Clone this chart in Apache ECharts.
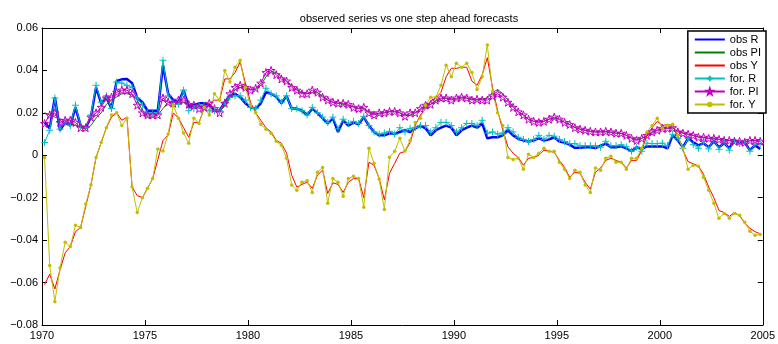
<!DOCTYPE html>
<html><head><meta charset="utf-8">
<script src="https://cdn.jsdelivr.net/npm/echarts@6/dist/echarts.min.js"></script>
<style>html,body{margin:0;padding:0;background:#fff}#c{width:778px;height:344px}</style>
</head><body><div id="c"></div>
<script>
const chartTitle = 'observed series vs one step ahead forecasts';
const seriesNames = ['obs R', 'obs PI', 'obs Y', 'for. R', 'for. PI', 'for. Y'];
const xTickValues = [1970, 1975, 1980, 1985, 1990, 1995, 2000, 2005];
const yTickValues = [-0.08, -0.06, -0.04, -0.02, 0, 0.02, 0.04, 0.06];
const firstYear = 1970; // quarterly data 1970Q1 .. 2004Q4

const obsR = [
 0.0155,0.0127,0.0274,0.0118,0.0155,0.014,0.0226,0.014,0.013,0.018,
 0.032,0.0245,0.0274,0.022,0.035,0.0358,0.036,0.034,0.027,0.025,
 0.021,0.021,0.021,0.0425,0.029,0.026,0.025,0.0307,0.0226,0.0236,
 0.0245,0.0245,0.0236,0.021,0.021,0.025,0.028,0.029,0.0274,0.0245,
 0.0226,0.022,0.0245,0.0297,0.029,0.0276,0.0245,0.028,0.022,0.022,
 0.021,0.019,0.022,0.020,0.0175,0.015,0.0175,0.011,0.0165,0.014,
 0.0155,0.0146,0.018,0.014,0.011,0.0094,0.0094,0.0104,0.010,0.011,
 0.0118,0.011,0.0127,0.014,0.0127,0.0094,0.0118,0.013,0.014,0.013,
 0.0094,0.0118,0.013,0.014,0.013,0.015,0.008,0.0085,0.0085,0.0094,
 0.0118,0.0094,0.0078,0.007,0.0065,0.007,0.008,0.007,0.0075,0.0085,
 0.0065,0.006,0.005,0.0035,0.0036,0.0038,0.0038,0.0034,0.0045,0.0055,
 0.0038,0.0038,0.0042,0.0033,0.0019,0.0038,0.003,0.0042,0.0042,0.0042,
 0.0042,0.0033,0.0094,0.007,0.0038,0.008,0.0061,0.0047,0.0057,0.0038,
 0.0066,0.0038,0.0057,0.0033,0.007,0.0061,0.0061,0.0024,0.0047,0.003
];
const obsPI = [
 0.020,0.019,0.018,0.017,0.0165,0.015,0.014,0.013,0.0125,0.014,
 0.0175,0.020,0.024,0.026,0.0275,0.029,0.029,0.0285,0.026,0.021,
 0.018,0.018,0.019,0.022,0.025,0.025,0.0255,0.025,0.024,0.0235,
 0.023,0.023,0.0235,0.022,0.021,0.023,0.027,0.031,0.032,0.032,
 0.031,0.031,0.033,0.037,0.0395,0.039,0.037,0.035,0.033,0.031,
 0.0295,0.029,0.0295,0.0295,0.028,0.026,0.025,0.0245,0.024,0.0235,
 0.023,0.022,0.022,0.0205,0.0195,0.0195,0.020,0.0205,0.0205,0.020,
 0.019,0.019,0.020,0.0215,0.023,0.024,0.0255,0.0265,0.027,0.0265,
 0.0265,0.027,0.027,0.0265,0.026,0.0265,0.027,0.0295,0.031,0.029,
 0.026,0.023,0.0205,0.019,0.017,0.016,0.0158,0.016,0.017,0.0175,
 0.017,0.0155,0.0145,0.0132,0.0123,0.0118,0.0113,0.011,0.011,0.011,
 0.0108,0.0104,0.0102,0.0094,0.0082,0.0075,0.008,0.0092,0.0105,0.0118,
 0.0125,0.0128,0.0128,0.0115,0.0105,0.0099,0.0093,0.0087,0.0084,0.008,
 0.0079,0.0075,0.0071,0.007,0.0067,0.0066,0.0063,0.0068,0.0068,0.0066
];
const obsY = [
 -0.061,-0.056,-0.063,-0.054,-0.046,-0.043,-0.036,-0.034,-0.024,-0.014,
 -0.001,0.006,0.013,0.018,0.020,0.0165,0.018,-0.015,-0.019,-0.020,
 -0.0155,-0.011,-0.002,0.007,0.0095,0.020,0.0175,0.013,0.0085,0.0155,
 0.0155,0.022,0.0245,0.026,0.026,0.036,0.036,0.039,0.044,0.034,
 0.025,0.020,0.0165,0.013,0.011,0.007,0.0057,0.001,-0.0094,-0.015,
 -0.0137,-0.0127,-0.0156,-0.0094,-0.007,-0.018,-0.013,-0.0137,-0.0175,-0.0127,
 -0.011,-0.011,-0.020,-0.0033,-0.0047,-0.011,-0.021,-0.0085,-0.0038,0.001,
 0.0018,0.006,0.014,0.019,0.022,0.0255,0.027,0.0297,0.037,0.041,
 0.041,0.0415,0.0415,0.035,0.033,0.038,0.046,0.032,0.021,0.012,
 0.004,0.001,-0.001,-0.0047,-0.0014,-0.001,0.0,0.0024,0.0019,0.0014,
 -0.0024,-0.0057,-0.0104,-0.008,-0.0085,-0.0127,-0.016,-0.008,-0.006,-0.0024,
 -0.0014,-0.0024,-0.0033,-0.006,-0.0024,-0.0024,0.0024,0.0094,0.013,0.016,
 0.014,0.0146,0.014,0.0094,0.0024,-0.003,-0.004,-0.005,-0.009,-0.015,
 -0.020,-0.026,-0.027,-0.0288,-0.027,-0.0285,-0.032,-0.0344,-0.036,-0.037
];
const forR = [
 0.006,0.0118,0.027,0.0123,0.0155,0.014,0.0236,0.014,0.013,0.019,
 0.033,0.025,0.028,0.022,0.0345,0.034,0.033,0.032,0.027,0.0236,
 0.020,0.020,0.020,0.0448,0.028,0.025,0.024,0.0307,0.021,0.022,
 0.0235,0.0235,0.021,0.021,0.021,0.025,0.0274,0.028,0.028,0.026,
 0.0226,0.022,0.026,0.0316,0.029,0.028,0.025,0.028,0.022,0.022,
 0.021,0.019,0.0226,0.020,0.018,0.0155,0.018,0.0125,0.017,0.015,
 0.016,0.015,0.0184,0.014,0.011,0.010,0.0105,0.0113,0.010,0.013,
 0.011,0.0127,0.013,0.014,0.014,0.011,0.013,0.0155,0.0155,0.014,
 0.011,0.013,0.015,0.015,0.014,0.0165,0.0104,0.011,0.010,0.0105,
 0.013,0.011,0.0085,0.0075,0.0065,0.0075,0.0094,0.0075,0.0094,0.009,
 0.0075,0.0065,0.0055,0.0055,0.0045,0.0045,0.0045,0.0045,0.0038,0.0066,
 0.0045,0.0045,0.005,0.004,0.0019,0.0038,0.0019,0.0057,0.0055,0.0055,
 0.0057,0.0045,0.0099,0.008,0.0033,0.008,0.005,0.0033,0.0065,0.003,
 0.0075,0.0028,0.0065,0.0024,0.007,0.0055,0.0065,0.0019,0.005,0.0055
];
const forPI = [
 0.015,0.019,0.020,0.0155,0.0165,0.0165,0.0155,0.013,0.013,0.018,
 0.020,0.0226,0.027,0.0274,0.0297,0.0307,0.0307,0.029,0.0236,0.020,
 0.019,0.019,0.019,0.027,0.025,0.0245,0.026,0.026,0.024,0.0236,
 0.022,0.0226,0.0245,0.022,0.020,0.0245,0.029,0.032,0.033,0.032,
 0.0307,0.0316,0.034,0.039,0.040,0.038,0.036,0.035,0.032,0.0307,
 0.029,0.029,0.0307,0.0297,0.0274,0.026,0.025,0.0245,0.0245,0.024,
 0.0226,0.022,0.0226,0.020,0.019,0.020,0.020,0.0207,0.0207,0.020,
 0.0184,0.020,0.020,0.022,0.0236,0.024,0.026,0.027,0.027,0.026,
 0.027,0.0274,0.027,0.026,0.0264,0.026,0.026,0.028,0.029,0.0274,
 0.025,0.0226,0.0205,0.019,0.017,0.016,0.0155,0.016,0.017,0.018,
 0.017,0.0155,0.0145,0.013,0.0123,0.0118,0.0113,0.011,0.011,0.0113,
 0.011,0.0104,0.0104,0.0094,0.008,0.007,0.008,0.0094,0.011,0.0118,
 0.0127,0.0127,0.013,0.011,0.0104,0.0099,0.0094,0.0085,0.0085,0.008,
 0.008,0.0075,0.007,0.007,0.0066,0.0066,0.0061,0.007,0.007,0.0066
];
const forY = [
 -0.001,-0.052,-0.069,-0.053,-0.041,-0.043,-0.033,-0.034,-0.023,-0.014,
 -0.001,0.006,0.013,0.019,0.020,0.014,0.0175,-0.015,-0.027,-0.020,
 -0.0155,-0.011,0.003,0.002,0.010,0.0235,0.0175,0.0105,0.0057,0.0175,
 0.015,0.0226,0.019,0.029,0.026,0.040,0.0345,0.0415,0.0448,0.032,
 0.0236,0.020,0.0146,0.0123,0.0104,0.0066,0.0047,-0.0014,-0.014,-0.0165,
 -0.0127,-0.012,-0.0175,-0.008,-0.0057,-0.0226,-0.011,-0.0127,-0.0193,-0.011,
 -0.0099,-0.011,-0.0245,0.0033,-0.0038,-0.0113,-0.0255,-0.0009,0.0019,0.008,
 0.002,0.007,0.0155,0.0175,0.0236,0.0274,0.0274,0.033,0.0425,0.037,
 0.0434,0.0415,0.0434,0.039,0.031,0.037,0.052,0.030,0.020,0.014,
 -0.001,-0.002,-0.0014,-0.0066,0.0005,-0.001,0.001,0.0033,0.0019,0.0019,
 -0.0033,-0.0066,-0.011,-0.007,-0.008,-0.014,-0.0175,-0.006,-0.007,-0.0014,
 -0.0005,-0.0033,-0.0033,-0.0066,-0.0014,-0.0014,0.0033,0.011,0.014,0.0175,
 0.0127,0.014,0.0146,0.0094,0.0033,-0.0066,-0.0047,-0.0052,-0.0104,-0.0165,
 -0.0226,-0.0297,-0.0274,-0.0297,-0.0274,-0.0283,-0.0316,-0.0358,-0.0377,-0.0373
];

// quarter mid-points
const dates = obsR.map((_, i) => firstYear + 0.125 + 0.25 * i);
const pairs = arr => arr.map((v, i) => [dates[i], v]);

const FONT = 'Liberation Sans, Arial, Helvetica, sans-serif';
const plusPath = 'path://M5,0L5,10M0,5L10,5';
const starPath = 'path://M10,0L12.245,6.91L19.51,6.91L13.633,11.18L15.88,18.09L10,13.82L4.12,18.09L6.367,11.18L0.49,6.91L7.755,6.91Z';

const fmtY = v => {
  if (Math.abs(v) < 1e-9) return '0';
  return (v < 0 ? '\u2212' : '') + Math.abs(v).toFixed(2);
};
const fmtX = v => String(Math.round(v));

const axisCommon = {
  axisLine: { show: true, onZero: false, lineStyle: { color: '#000', width: 1 } },
  axisTick: { show: true, inside: true, length: 5, lineStyle: { color: '#000' } },
  splitLine: { show: false }
};

const chart = echarts.init(document.getElementById('c'), null, { renderer: 'canvas' });
chart.setOption({
  animation: false,
  backgroundColor: '#fff',
  title: {
    text: chartTitle, left: 404, top: 8, textAlign: 'center',
    textStyle: { fontSize: 11, fontWeight: 'normal', color: '#000', fontFamily: FONT }
  },
  grid: { left: 42, right: 12, top: 28, bottom: 19, containLabel: false },
  legend: {
    orient: 'vertical', right: 12, top: 31,
    itemWidth: 30, itemHeight: 7, itemGap: 2,
    padding: [3, 5, 3, 6],
    borderColor: '#000', borderWidth: 1.5, backgroundColor: '#fff',
    textStyle: { fontSize: 11, color: '#000', fontFamily: FONT },
    data: [
      { name: seriesNames[0], itemStyle: { opacity: 0 } },
      { name: seriesNames[1], itemStyle: { opacity: 0 } },
      { name: seriesNames[2], itemStyle: { opacity: 0 } },
      { name: seriesNames[3] },
      { name: seriesNames[4] },
      { name: seriesNames[5] }
    ]
  },
  xAxis: [
    Object.assign({ type: 'value', min: xTickValues[0], max: xTickValues[xTickValues.length - 1], interval: 5, position: 'bottom',
      axisLabel: { color: '#000', fontSize: 11, fontFamily: FONT, margin: 5, showMinLabel: true, showMaxLabel: true, formatter: fmtX } }, axisCommon),
    Object.assign({ type: 'value', min: xTickValues[0], max: xTickValues[xTickValues.length - 1], interval: 5, position: 'top',
      axisLabel: { show: false } }, axisCommon)
  ],
  yAxis: [
    Object.assign({ type: 'value', min: yTickValues[0], max: yTickValues[yTickValues.length - 1], interval: 0.02, position: 'left',
      axisLabel: { color: '#000', fontSize: 11, fontFamily: FONT, margin: 4, formatter: fmtY } }, axisCommon),
    Object.assign({ type: 'value', min: yTickValues[0], max: yTickValues[yTickValues.length - 1], interval: 0.02, position: 'right',
      axisLabel: { show: false } }, axisCommon)
  ],
  series: [
    { name: seriesNames[0], type: 'line', data: pairs(obsR), symbol: 'none', silent: true,
      color: '#0000FF', lineStyle: { color: '#0000FF', width: 2.5 } },
    { name: seriesNames[1], type: 'line', data: pairs(obsPI), symbol: 'none', silent: true,
      color: '#008000', lineStyle: { color: '#008000', width: 1 } },
    { name: seriesNames[2], type: 'line', data: pairs(obsY), symbol: 'none', silent: true,
      color: '#FF0000', lineStyle: { color: '#FF0000', width: 1 } },
    { name: seriesNames[3], type: 'line', data: pairs(forR), symbol: plusPath, symbolSize: 7, showAllSymbol: true, silent: true,
      color: '#00BFBF', lineStyle: { color: '#00BFBF', width: 1 },
      itemStyle: { color: 'transparent', borderColor: '#00BFBF', borderWidth: 1 } },
    { name: seriesNames[4], type: 'line', data: pairs(forPI), symbol: starPath, symbolSize: 8, showAllSymbol: true, silent: true,
      color: '#BF00BF', lineStyle: { color: '#BF00BF', width: 1 },
      itemStyle: { color: 'transparent', borderColor: '#BF00BF', borderWidth: 1 } },
    { name: seriesNames[5], type: 'line', data: pairs(forY), symbol: 'circle', symbolSize: 3.5, showAllSymbol: true, silent: true,
      color: '#BFBF00', lineStyle: { color: '#BFBF00', width: 1 },
      itemStyle: { color: '#BFBF00', borderWidth: 0 } }
  ]
});
</script>
</body></html>
